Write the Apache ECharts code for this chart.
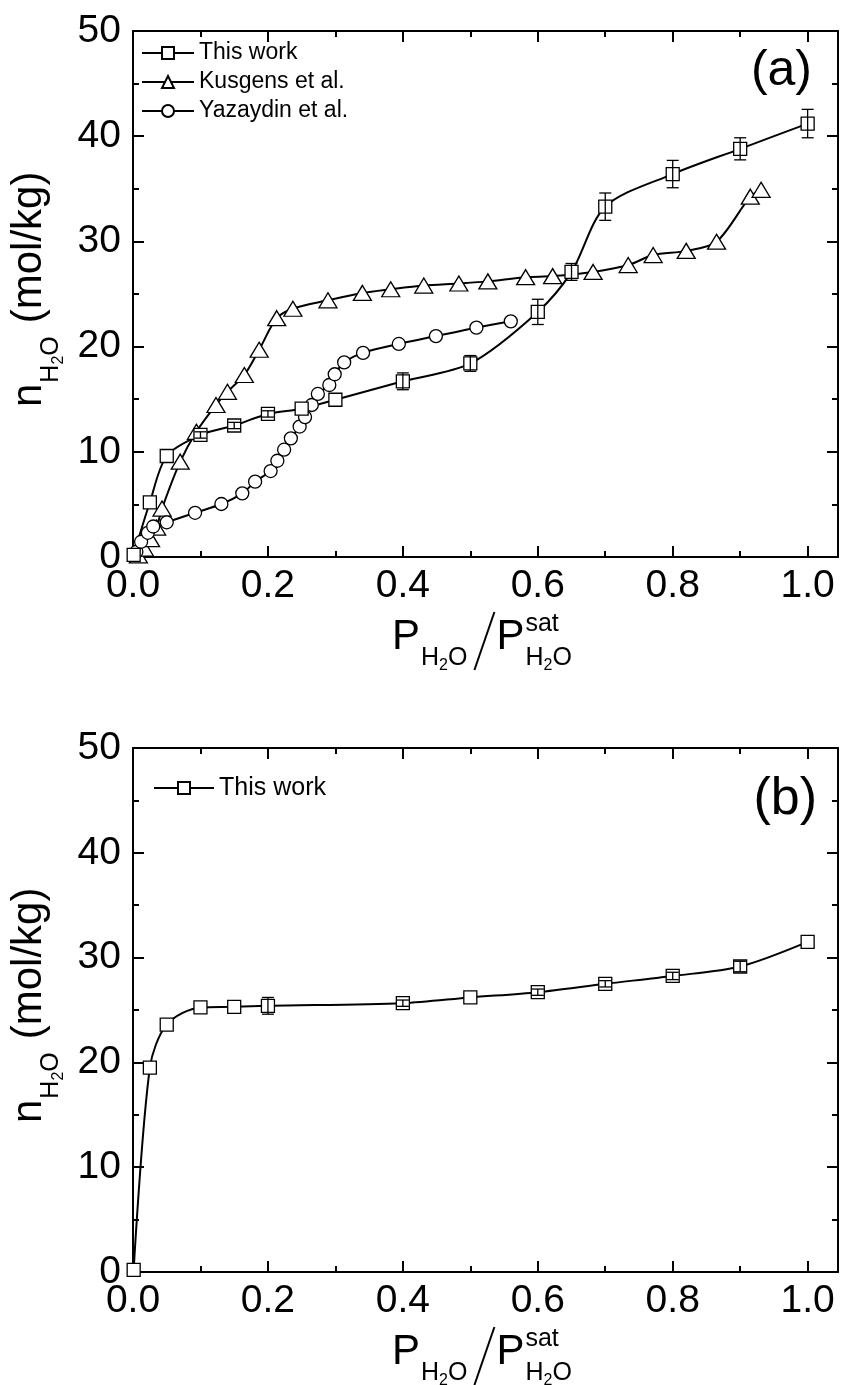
<!DOCTYPE html>
<html>
<head>
<meta charset="utf-8">
<script src="https://cdn.jsdelivr.net/npm/echarts@6/dist/echarts.min.js"></script>
<style>
html,body{margin:0;padding:0;background:#fff;}
#c{width:843px;height:1385px;}
</style>
</head>
<body>
<div id="c"></div>
<script>
// ---------------- DATA ----------------
// Panel (a): This work (squares, with error bars)
const aWorkX   = [0.001, 0.025, 0.05, 0.1, 0.15, 0.2, 0.25, 0.3, 0.4, 0.5, 0.6, 0.65, 0.7, 0.8, 0.9, 1.0];
const aWorkY   = [0.2, 5.2, 9.6, 11.6, 12.5, 13.6, 14.1, 14.95, 16.7, 18.4, 23.3, 27.1, 33.3, 36.4, 38.8, 41.2];
const aWorkErr = [0, 0, 0, 0.3, 0.3, 0.3, 0, 0, 0.8, 0.75, 1.2, 0.8, 1.3, 1.3, 1.05, 1.35];
// Panel (a): Kusgens et al. (triangles)
const aKusX = [0.008, 0.017, 0.026, 0.035, 0.043, 0.07, 0.094, 0.123, 0.14, 0.165, 0.187, 0.213, 0.237, 0.289, 0.34, 0.382, 0.431, 0.483, 0.526, 0.582, 0.622, 0.682, 0.734, 0.771, 0.82, 0.865, 0.915, 0.931];
const aKusY = [0.15, 0.8, 1.7, 2.8, 4.6, 9.06, 11.9, 14.45, 15.7, 17.3, 19.7, 22.7, 23.6, 24.4, 25.1, 25.45, 25.8, 26.0, 26.2, 26.6, 26.7, 27.1, 27.75, 28.7, 29.1, 29.97, 34.25, 34.9];
// Panel (a): Yazaydin et al. (circles)
const aYazX = [0.005, 0.012, 0.022, 0.03, 0.05, 0.092, 0.131, 0.162, 0.181, 0.204, 0.214, 0.224, 0.234, 0.247, 0.255, 0.265, 0.274, 0.291, 0.299, 0.313, 0.341, 0.394, 0.449, 0.509, 0.56];
const aYazY = [0.5, 1.45, 2.3, 2.9, 3.3, 4.2, 5.04, 6.05, 7.16, 8.17, 9.15, 10.2, 11.28, 12.4, 13.3, 14.45, 15.5, 16.35, 17.37, 18.5, 19.4, 20.25, 21.0, 21.8, 22.4];
// Panel (b): This work
const bWorkX   = [0.001, 0.025, 0.05, 0.1, 0.15, 0.2, 0.4, 0.5, 0.6, 0.7, 0.8, 0.9, 1.0];
const bWorkY   = [0.2, 19.5, 23.6, 25.25, 25.3, 25.4, 25.65, 26.2, 26.7, 27.5, 28.25, 29.15, 31.5];
const bWorkErr = [0, 0, 0, 0, 0, 0.8, 0.3, 0, 0.3, 0.3, 0.35, 0.5, 0];
// Tick labels
const xTickLabels = ['0.0', '0.2', '0.4', '0.6', '0.8', '1.0'];
const yTickLabels = ['0', '10', '20', '30', '40', '50'];
const legendA = ['This work', 'Kusgens et al.', 'Yazaydin et al.'];
const legendB = ['This work'];

// ---------------- HELPERS ----------------
const FONT = '"Liberation Sans", Arial, Helvetica, sans-serif';
const X_MAX = 1.045;
const mctx = document.createElement('canvas').getContext('2d');
function tw(t, fs) { mctx.font = fs + 'px ' + FONT; return mctx.measureText(t).width; }
function txt(t, fs, x, baseY) {
  return {type: 'text', x: x, y: baseY - 0.3465 * fs, silent: true,
    style: {text: t, fontSize: fs, fontFamily: FONT, fill: '#000', align: 'left', verticalAlign: 'middle'}};
}
function pts(xs, ys) { return xs.map((x, i) => [x, ys[i]]); }
function errPts(xs, ys, es) { return xs.map((x, i) => [x, ys[i], es[i]]); }

function xTitle(x0, yb) {
  const els = [];
  let x = x0;
  const put = (t, fs, bx, by) => { els.push(txt(t, fs, bx, by)); return tw(t, fs); };
  x += put('P', 42, x, yb);
  let s = x + 1;
  s += put('H', 25, s, yb + 15);
  s += put('2', 16, s, yb + 19);
  s += put('O', 25, s, yb + 15);
  x = s + 7;
  // thin fraction slash
  els.push({type: 'line', silent: true, shape: {x1: x, y1: yb + 18, x2: x + 20, y2: yb - 40},
    style: {stroke: '#000', lineWidth: 2}});
  x += 22;
  x += put('P', 42, x, yb);
  put('sat', 25, x + 1, yb - 19);
  let s2 = x + 1;
  s2 += put('H', 25, s2, yb + 15);
  s2 += put('2', 16, s2, yb + 19);
  put('O', 25, s2, yb + 15);
  return els;
}
function yTitle(bx, by) {
  const ch = [];
  let x = 0;
  const put = (t, fs, lx, lb) => { ch.push(txt(t, fs, lx, lb)); return tw(t, fs); };
  x += put('n', 42, 0, 0);
  let s = x + 1;
  s += put('H', 25, s, 16);
  s += put('2', 16, s, 20);
  s += put('O', 25, s, 16);
  put('(mol/kg)', 42, s + 13, 0);
  return {type: 'group', x: bx, y: by, rotation: Math.PI / 2, silent: true, children: ch};
}

function xLabelFmt(v) {
  const i = Math.round(v / 0.2);
  if (Math.abs(v - i * 0.2) < 1e-6 && i < xTickLabels.length) return xTickLabels[i];
  return '';
}
function yLabelFmt(v) {
  const i = Math.round(v / 10);
  if (Math.abs(v - i * 10) < 1e-6 && i < yTickLabels.length) return yTickLabels[i];
  return '';
}

const lineSt = {color: '#000', width: 2};
const tickMaj = {show: true, inside: true, length: 11, lineStyle: {color: '#000', width: 2}};
const tickMin = {show: true, inside: true, length: 6, lineStyle: {color: '#000', width: 2}};
const lblStyle = {color: '#000', fontSize: 39, fontFamily: FONT};

function xAxes(gi) {
  const base = {type: 'value', gridIndex: gi, min: 0, max: X_MAX, splitLine: {show: false}};
  return [
    Object.assign({}, base, {position: 'bottom', interval: 0.2,
      axisLine: {show: true, onZero: false, lineStyle: lineSt}, axisTick: tickMaj,
      axisLabel: Object.assign({show: true, margin: 10, showMaxLabel: false, formatter: xLabelFmt}, lblStyle)}),
    Object.assign({}, base, {position: 'bottom', interval: 0.1,
      axisLine: {show: false, onZero: false}, axisTick: tickMin, axisLabel: {show: false}}),
    Object.assign({}, base, {position: 'top', interval: 0.2,
      axisLine: {show: true, onZero: false, lineStyle: lineSt}, axisTick: tickMaj, axisLabel: {show: false}}),
    Object.assign({}, base, {position: 'top', interval: 0.1,
      axisLine: {show: false, onZero: false}, axisTick: tickMin, axisLabel: {show: false}})
  ];
}
function yAxes(gi) {
  const base = {type: 'value', gridIndex: gi, min: 0, max: 50, interval: 10, splitLine: {show: false},
    axisLine: {show: true, onZero: false, lineStyle: lineSt}, axisTick: tickMaj,
    minorTick: {show: true, splitNumber: 2, length: 6, lineStyle: {color: '#000', width: 2}},
    minorSplitLine: {show: false}};
  return [
    Object.assign({}, base, {position: 'left',
      axisLabel: Object.assign({show: true, margin: 12, formatter: yLabelFmt}, lblStyle)}),
    Object.assign({}, base, {position: 'right', axisLabel: {show: false}})
  ];
}

function errRender(params, api) {
  const x = api.value(0), y = api.value(1), e = api.value(2);
  if (!e) return null;
  const t = api.coord([x, y + e]), b = api.coord([x, y - e]);
  const hw = 6;
  const st = {stroke: '#000', lineWidth: 1.3, fill: null};
  return {type: 'group', children: [
    {type: 'line', shape: {x1: t[0], y1: t[1], x2: b[0], y2: b[1]}, style: st},
    {type: 'line', shape: {x1: t[0] - hw, y1: t[1], x2: t[0] + hw, y2: t[1]}, style: st},
    {type: 'line', shape: {x1: b[0] - hw, y1: b[1], x2: b[0] + hw, y2: b[1]}, style: st}
  ]};
}

function lineSeries(name, data, xi, yi, symbol, size) {
  return {type: 'line', name: name, data: data, xAxisIndex: xi, yAxisIndex: yi,
    smooth: 0.3, symbol: symbol, symbolSize: size, showSymbol: true, z: 2,
    lineStyle: {color: '#000', width: 2},
    itemStyle: {color: '#fff', borderColor: '#000', borderWidth: 1.3},
    emphasis: {disabled: true}, animation: false};
}

const chart = echarts.init(document.getElementById('c'), null, {renderer: 'canvas', width: 843, height: 1385});
const option = {
  animation: false,
  backgroundColor: '#fff',
  grid: [
    {left: 133, top: 31, width: 705, height: 526, containLabel: false, outerBoundsMode: 'none'},
    {left: 133, top: 748, width: 705, height: 524, containLabel: false, outerBoundsMode: 'none'}
  ],
  xAxis: xAxes(0).concat(xAxes(1)),
  yAxis: yAxes(0).concat(yAxes(1)),
  legend: [
    {data: legendA, orient: 'vertical', left: 136, top: 36, itemWidth: 52, itemHeight: 15, itemGap: 5,
      selectedMode: false, textStyle: {color: '#000', fontSize: 23, fontFamily: FONT, lineHeight: 24}},
    {data: legendB, orient: 'vertical', left: 148, top: 770, itemWidth: 60, itemHeight: 15, itemGap: 5,
      selectedMode: false, textStyle: {color: '#000', fontSize: 25, fontFamily: FONT, lineHeight: 26}}
  ],
  series: [
    lineSeries('Kusgens et al.', pts(aKusX, aKusY), 0, 0, 'triangle', [18, 15]),
    lineSeries('Yazaydin et al.', pts(aYazX, aYazY), 0, 0, 'circle', 13),
    lineSeries('This work', pts(aWorkX, aWorkY), 0, 0, 'rect', 13),
    {type: 'custom', name: 'errA', xAxisIndex: 0, yAxisIndex: 0, z: 3, renderItem: errRender,
      data: errPts(aWorkX, aWorkY, aWorkErr), encode: {x: 0, y: 1}, silent: true},
    lineSeries('This work', pts(bWorkX, bWorkY), 4, 2, 'rect', 13),
    {type: 'custom', name: 'errB', xAxisIndex: 4, yAxisIndex: 2, z: 3, renderItem: errRender,
      data: errPts(bWorkX, bWorkY, bWorkErr), encode: {x: 0, y: 1}, silent: true}
  ],
  graphic: [
    {type: 'text', right: 843 - 812, top: 46, silent: true,
      style: {text: '(a)', fontSize: 50, fontFamily: FONT, fill: '#000'}},
    {type: 'text', right: 843 - 817, top: 774, silent: true,
      style: {text: '(b)', fontSize: 52, fontFamily: FONT, fill: '#000'}}
  ].concat(xTitle(392, 652)).concat(xTitle(392, 1367)).concat([yTitle(44, 407), yTitle(44, 1123)])
};
chart.setOption(option);
</script>
</body>
</html>
